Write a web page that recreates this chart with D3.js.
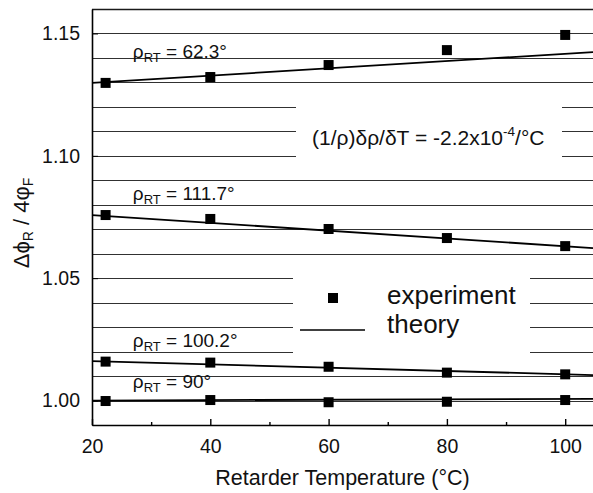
<!DOCTYPE html>
<html>
<head>
<meta charset="utf-8">
<script src="https://cdn.jsdelivr.net/npm/d3@7"></script>
<style>
  body { margin: 0; background: #fff; }
  svg text { font-family: "Liberation Sans", Arial, Helvetica, sans-serif; fill: #111; }
</style>
</head>
<body>
<div id="chart"></div>
<script>
// retarder temperature (deg C) of the measured points
const temps = [22.3, 40, 60, 80, 100];

// measured ratio for each retardance at room temperature
const exp62 = [1.1298, 1.1322, 1.1371, 1.1432, 1.1494];
const exp111 = [1.0758, 1.0742, 1.0701, 1.0664, 1.0631];
const exp100 = [1.0159, 1.0155, 1.0138, 1.0114, 1.0107];
const exp90 = [0.9998, 1.0002, 0.9993, 0.9995, 1.0002];

// theory lines (end points)
const theoryT = [20, 104.7];
const theory62 = [1.1298, 1.1424];
const theory111 = [1.0758, 1.0623];
const theory100 = [1.0161, 1.0104];
const theory90 = [1.0000, 1.0007];

const rhoLabels = ["62.3°", "111.7°", "100.2°", "90°"];
const xTicks = [20, 40, 60, 80, 100];
const xMinor = [30, 50, 70, 90];
const yTicks = [1.00, 1.05, 1.10, 1.15];

const width = 593, height = 493;

const svg = d3.select("#chart").append("svg")
    .attr("width", width)
    .attr("height", height);

const x = d3.scaleLinear().domain([20, 104.7]).range([92, 593]);
const y = d3.scaleLinear().domain([0.99, 1.16]).range([425, 9]);

// ruled lines every 0.01
const rules = d3.range(0, 18).map(i => 0.99 + i * 0.01);
svg.append("g")
    .selectAll("line")
    .data(rules)
    .enter().append("line")
    .attr("x1", x(20))
    .attr("x2", width)
    .attr("y1", d => Math.round(y(d)) + 0.5)
    .attr("y2", d => Math.round(y(d)) + 0.5)
    .attr("stroke", "#1a1a1a")
    .attr("stroke-width", d => (Math.abs(d - 1.16) < 1e-6 ? 1.6 : 0.9));

// white patches behind annotation and legend
svg.append("rect").attr("x", 296).attr("y", 96).attr("width", 266).attr("height", 72).attr("fill", "#fff");
svg.append("rect").attr("x", 293).attr("y", 264).attr("width", 237).attr("height", 96).attr("fill", "#fff");

// axes
let xAxis = g => g
    .attr("transform", `translate(0,${y(0.99)})`)
    .call(d3.axisBottom(x).tickValues(xTicks).tickSizeInner(-6).tickSizeOuter(0).tickPadding(14).tickFormat(d3.format("d")))
    .call(g => g.select(".domain").attr("stroke-width", 1.6))
    .call(g => g.selectAll(".tick line").attr("stroke-width", 1.4))
    .call(g => g.selectAll("text").attr("font-size", 19.5).attr("fill", "#111").attr("font-family", null));

let xMinorAxis = g => g
    .attr("transform", `translate(0,${y(0.99)})`)
    .call(d3.axisBottom(x).tickValues(xMinor).tickSizeInner(-3).tickSizeOuter(0).tickFormat(""))
    .call(g => g.select(".domain").remove())
    .call(g => g.selectAll(".tick line").attr("stroke-width", 1.4));

let yAxis = g => g
    .attr("transform", `translate(${x(20)},0)`)
    .call(d3.axisLeft(y).tickValues(yTicks).tickSizeInner(-6).tickSizeOuter(0).tickPadding(12).tickFormat(d3.format(".2f")))
    .call(g => g.select(".domain").attr("stroke-width", 1.6))
    .call(g => g.selectAll("text").attr("font-size", 19.5).attr("fill", "#111").attr("font-family", null));

svg.append("g").call(xAxis);
svg.append("g").call(xMinorAxis);
svg.append("g").call(yAxis);

// axis titles
svg.append("text")
    .attr("x", (x(20) + width) / 2)
    .attr("y", 485)
    .attr("text-anchor", "middle")
    .attr("font-size", 21.5)
    .text("Retarder Temperature (°C)");

const yTitle = svg.append("text")
    .attr("transform", "translate(29,223) rotate(-90)")
    .attr("text-anchor", "middle")
    .attr("font-size", 22);
yTitle.append("tspan").text("Δϕ");
yTitle.append("tspan").attr("font-size", 14).attr("dy", 4).text("R");
yTitle.append("tspan").attr("dy", -4).text(" / 4φ");
yTitle.append("tspan").attr("font-size", 14).attr("dy", 4).text("F");

// theory lines and measured points
const series = [
    {exp: exp62, theory: theory62},
    {exp: exp111, theory: theory111},
    {exp: exp100, theory: theory100},
    {exp: exp90, theory: theory90}
];

const line = d3.line()
    .x(d => x(d[0]))
    .y(d => y(d[1]));

svg.append("g")
    .selectAll("path")
    .data(series)
    .enter().append("path")
    .attr("d", s => line(d3.zip(theoryT, s.theory)))
    .attr("fill", "none")
    .attr("stroke", "#000")
    .attr("stroke-width", 1.8);

const size = 10;
series.forEach(s => {
    svg.append("g")
        .selectAll("rect")
        .data(d3.zip(temps, s.exp))
        .enter().append("rect")
        .attr("x", d => x(d[0]) - size / 2)
        .attr("y", d => y(d[1]) - size / 2)
        .attr("width", size)
        .attr("height", size)
        .attr("fill", "#000");
});

// retardance labels
const labelY = [1.1398, 1.0819, 1.0219, 1.0052];
rhoLabels.forEach((t, i) => {
    const lab = svg.append("text")
        .attr("x", x(26.9))
        .attr("y", y(labelY[i]))
        .attr("font-size", 19);
    lab.append("tspan").text("ρ");
    lab.append("tspan").attr("font-size", 13).attr("dy", 4).text("RT");
    lab.append("tspan").attr("dy", -4).text(" = " + t);
});

// coefficient annotation
const note = svg.append("text")
    .attr("x", 312)
    .attr("y", 145)
    .attr("font-size", 21);
note.append("tspan").text("(1/ρ)δρ/δT = -2.2x10");
note.append("tspan").attr("font-size", 13.5).attr("dy", -9).text("-4");
note.append("tspan").attr("dy", 9).text("/°C");

// legend
svg.append("rect")
    .attr("x", 333 - 5).attr("y", 298 - 5)
    .attr("width", 10).attr("height", 10)
    .attr("fill", "#000");
svg.append("line")
    .attr("x1", 300).attr("x2", 365)
    .attr("y1", 330).attr("y2", 330)
    .attr("stroke", "#000").attr("stroke-width", 1.6);
svg.append("text").attr("x", 387).attr("y", 304).attr("font-size", 26).text("experiment");
svg.append("text").attr("x", 387).attr("y", 333).attr("font-size", 26).text("theory");
</script>
</body>
</html>
